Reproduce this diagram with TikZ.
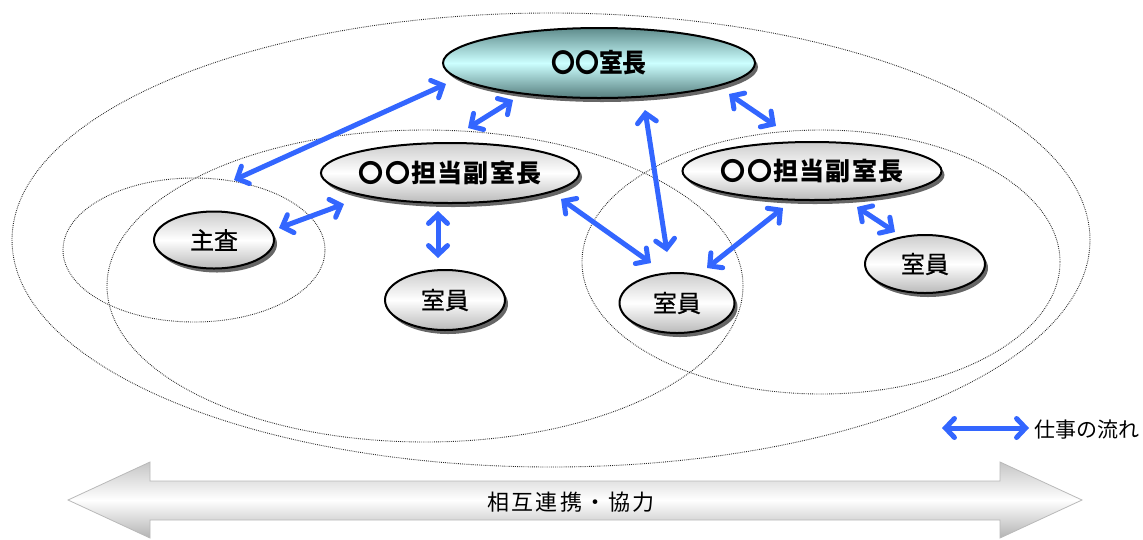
\documentclass[tikz,border=0pt]{standalone}
\usepackage{fontspec}
\setmainfont{Noto Sans CJK JP}
\usetikzlibrary{shapes.geometric,arrows.meta,shadows}
\definecolor{flowblue}{RGB}{51,102,255}
\definecolor{tealtop}{RGB}{95,140,140}
\definecolor{tealmid}{RGB}{204,255,255}
\definecolor{tealbot}{RGB}{85,125,125}
\tikzset{
  grp/.style={draw=black!85, line width=0.9pt, dash pattern=on 0.8pt off 1.1pt},
  person/.style={ellipse, draw=black, line width=2pt, inner sep=0pt,
    top color=gray!40, bottom color=gray!55, middle color=white,
    drop shadow={shadow xshift=3pt, shadow yshift=-4pt, fill=black!60, opacity=1}},
  chief/.style={person, top color=tealtop, bottom color=tealbot, middle color=tealmid},
  barb/.tip={Straight Barb[length=9pt,width=19pt,line cap=round,line join=miter]},
  flow/.style={draw=flowblue, line width=5pt, line cap=round, barb-barb},
  bigarrow/.style={draw=gray!55, line width=0.8pt, top color=gray!45, bottom color=gray!60, middle color=white},
  lbig/.style={font=\fontsize{26}{28}\selectfont\bfseries\addfontfeature{FakeStretch=0.92}},
  lmid/.style={font=\fontsize{25}{28}\selectfont\bfseries\addfontfeature{LetterSpace=5}},
  lsmall/.style={font=\fontsize{24}{26}\selectfont\addfontfeature{FakeBold=0.6}},
  lcoop/.style={font=\fontsize{22}{25}\selectfont\addfontfeature{LetterSpace=10}},
  llegend/.style={font=\fontsize{21}{24}\selectfont},
}
\begin{document}
\begin{tikzpicture}[x=1pt,y=-1pt]
\useasboundingbox (0,0) rectangle (1143,539);
% group ellipses
\draw[grp] (551,240) ellipse [x radius=539pt, y radius=227pt];
\draw[grp] (425,286) ellipse [x radius=318pt, y radius=156pt];
\draw[grp] (194,250) ellipse [x radius=131pt, y radius=72pt];
\draw[grp] (821,262) ellipse [x radius=239pt, y radius=132pt];
% big cooperation arrow
\path[bigarrow] (68,500) -- (150,462) -- (150,481) -- (1000,481) -- (1000,462)
  -- (1082,500) -- (1000,538) -- (1000,520) -- (150,520) -- (150,538) -- cycle;
\node[lcoop] (coop) at (571,502) {相互連携・協力};
% nodes
\node[chief, lbig, minimum width=312pt, minimum height=70pt] (shicho) at (599,63) {〇〇室長};
\node[person, lmid, minimum width=255pt, minimum height=60pt] (fuku1) at (450,173) {〇〇担当副室長};
\node[person, lmid, minimum width=259pt, minimum height=58pt] (fuku2) at (812,171) {〇〇担当副室長};
\node[person, lsmall, minimum width=120pt, minimum height=57pt] (shusa) at (214,240) {主査};
\node[person, lsmall, minimum width=120pt, minimum height=60pt] (in1) at (445,300) {室員};
\node[person, lsmall, minimum width=115pt, minimum height=60pt] (in2) at (677,303) {室員};
\node[person, lsmall, minimum width=120pt, minimum height=58pt] (in3) at (925,264) {室員};
% arrow end points
\coordinate (a1s) at (446,84);  \coordinate (a1e) at (234,180);
\coordinate (a2s) at (513,100); \coordinate (a2e) at (468,128);
\coordinate (a3s) at (645,110); \coordinate (a3e) at (667,252);
\coordinate (a4s) at (729,94);  \coordinate (a4e) at (776,126);
\coordinate (a5s) at (344,204); \coordinate (a5e) at (279,228);
\coordinate (a6s) at (438,211); \coordinate (a6e) at (438,258);
\coordinate (a7s) at (561,199); \coordinate (a7e) at (651,263);
\coordinate (a8s) at (783,208); \coordinate (a8e) at (707,268);
\coordinate (a9s) at (857,207); \coordinate (a9e) at (895,232);
\foreach \i in {1,...,9} { \draw[flow] (a\i s) -- (a\i e); }
% legend
\coordinate (lg1) at (942,428); \coordinate (lg2) at (1029,428);
\draw[flow] (lg1) -- (lg2);
\node[anchor=west, inner sep=0pt, llegend] (legend) at (1034,430) {仕事の流れ};
\end{tikzpicture}
\end{document}
